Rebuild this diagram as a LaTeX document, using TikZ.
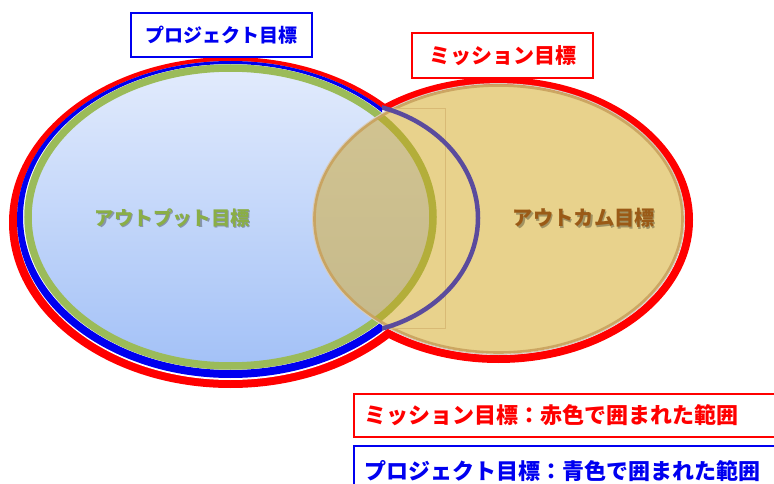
\documentclass[tikz,border=0pt]{standalone}
\usepackage{fontspec}
\newfontfamily\jp{Noto Sans CJK JP}
\definecolor{redc}{HTML}{FF0000}
\definecolor{bluec}{HTML}{0000F0}
\definecolor{greenring}{HTML}{9BBB59}
\definecolor{oliveg}{HTML}{B3AE3A}
\definecolor{tanfill}{HTML}{E8D28C}
\definecolor{tanborder}{HTML}{C9A25E}
\definecolor{tanhalo}{HTML}{D8CCBC}
\definecolor{purplec}{HTML}{5A4B9D}
\definecolor{outputtxt}{HTML}{8AAE46}
\definecolor{outcometxt}{HTML}{9A5A16}
\definecolor{ovtop}{HTML}{D3C592}
\definecolor{ovbot}{HTML}{C4B88A}
\definecolor{bluetop}{HTML}{E2EBFC}
\definecolor{bluebot}{HTML}{A3C1F7}
\tikzset{
  titlebox/.style={draw, line width=2.5pt, fill=white, inner sep=0pt, font=\jp\bfseries},
  legendbox/.style={draw, line width=2pt, fill=white, inner sep=0pt, inner xsep=10pt, anchor=west, align=left, font=\jp\bfseries},
  innerlabel/.style={font=\jp\bfseries, inner sep=0pt},
}
\begin{document}
\begin{tikzpicture}[x=1pt,y=-1pt]
\useasboundingbox (0,0) rectangle (774,484);
% red outline (union of two rings)
\fill[redc] (230.5,222.5) ellipse [x radius=221.5, y radius=165.5];
\fill[redc] (498.5,220) ellipse [x radius=194.5, y radius=143];
\fill[white] (230.5,220.5) ellipse [x radius=213.5, y radius=159.5];
\fill[white] (498.5,220) ellipse [x radius=186.5, y radius=135];
% blue outline (left part)
\begin{scope}
  \clip (0,0) rectangle (382,484);
  \fill[bluec, even odd rule] (230.5,219.5) ellipse [x radius=213.5, y radius=158.5]
        (230.5,217) ellipse [x radius=207.5, y radius=153];
\end{scope}
% output ellipse
\shade[top color=bluetop, bottom color=bluebot] (230.5,217) ellipse [x radius=202.5, y radius=149];
\draw[greenring, line width=7.5] (230.5,217) ellipse [x radius=202.5, y radius=149];
% outcome ellipse
\fill[tanfill] (498.5,219) ellipse [x radius=185, y radius=134.5];
\begin{scope}
  \clip (498.5,219) ellipse [x radius=185, y radius=134.5];
  \shade[top color=ovtop, bottom color=ovbot] (230.5,217) ellipse [x radius=202.5, y radius=149];
  \draw[oliveg, line width=7.5] (230.5,217) ellipse [x radius=202.5, y radius=149];
\end{scope}
\draw[tanhalo, line width=1.2] (498.5,219) ellipse [x radius=185.8, y radius=135.3];
\draw[tanborder, line width=2.6, opacity=0.9] (498.5,219) ellipse [x radius=184, y radius=133.5];
% faint rectangle
\draw[tanborder!50!tanfill, line width=0.6] (383,108) -- (445,108) -- (445,328) -- (383,328);
% purple arc (right part of project outline)
\begin{scope}
  \clip (382,0) rectangle (774,484);
  \draw[purplec, line width=4.5] (340,218) ellipse [x radius=138, y radius=116];
\end{scope}
% inner labels
\node[innerlabel, text=black, opacity=0.3, font=\jp\bfseries\fontsize{19.4}{19.4}\selectfont] (outputshadow) at (173.7,219.3) {アウトプット目標};
\node[innerlabel, text=outputtxt, font=\jp\bfseries\fontsize{19.4}{19.4}\selectfont] (output) at (172.5,218) {アウトプット目標};
\node[innerlabel, text=black, opacity=0.3, font=\jp\bfseries\fontsize{20.3}{20.3}\selectfont] (outcomeshadow) at (585.2,219.3) {アウトカム目標};
\node[innerlabel, text=outcometxt, font=\jp\bfseries\fontsize{20.3}{20.3}\selectfont] (outcome) at (584,218) {アウトカム目標};
% title boxes
\node[titlebox, draw=bluec, text=bluec, minimum width=181, minimum height=44, font=\jp\bfseries\fontsize{19}{19}\selectfont] (project) at (221.5,35) {プロジェクト目標};
\node[titlebox, draw=redc, text=redc, minimum width=181, minimum height=45, font=\jp\bfseries\fontsize{21}{21}\selectfont] (mission) at (502.5,55.5) {ミッション目標};
% legend boxes
\node[legendbox, draw=redc, text=redc, minimum width=440, minimum height=43, text width=420, font=\jp\bfseries\fontsize{22}{22}\selectfont] (legendred) at (353,415.5) {ミッション目標：赤色で囲まれた範囲};
\node[legendbox, draw=bluec, text=bluec, minimum width=440, minimum height=50, text width=420, font=\jp\bfseries\fontsize{22}{22}\selectfont] (legendblue) at (353,471) {プロジェクト目標：青色で囲まれた範囲};
\end{tikzpicture}
\end{document}
